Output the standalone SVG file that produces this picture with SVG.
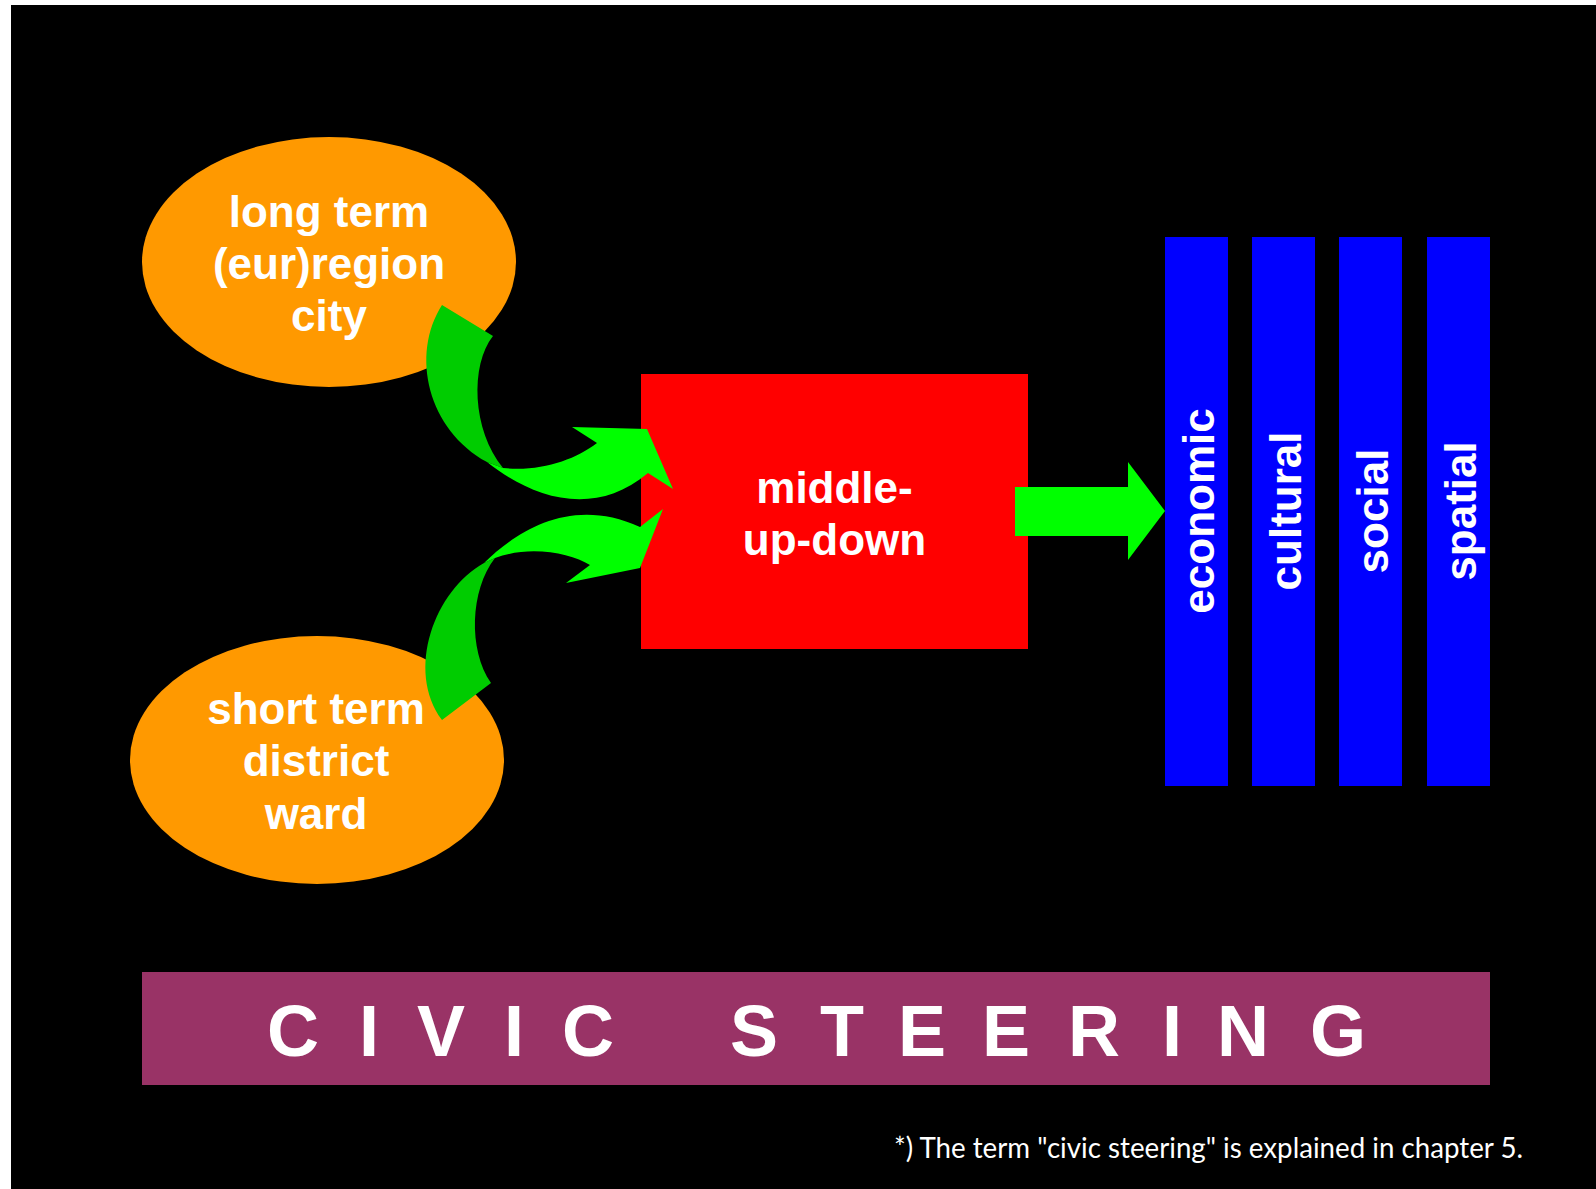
<svg xmlns="http://www.w3.org/2000/svg" width="1596" height="1189" viewBox="0 0 1596 1189">
  <style>
    .label { font-family: "Liberation Sans", Arial, sans-serif; font-weight: bold; fill: #ffffff; text-anchor: middle; }
    .big { font-size: 44px; }
    .bar { fill: #0000ff; }
    .oval { fill: #ff9900; }
    .front { fill: #00ff00; }
    .back { fill: #00cc00; }
    .note { font-family: Lato, "Noto Sans", sans-serif; font-size: 29px; fill: #ffffff; }
  </style>

  <!-- page -->
  <rect x="0" y="0" width="1596" height="1189" fill="#ffffff"/>
  <rect x="11" y="5" width="1585" height="1184" fill="#000000"/>

  <!-- time-scale ellipses -->
  <g id="node-long-term">
    <ellipse class="oval" cx="329" cy="262" rx="187" ry="125"/>
    <text class="label big" x="329" y="227">long term</text>
    <text class="label big" x="329" y="279">(eur)region</text>
    <text class="label big" x="329" y="331">city</text>
  </g>
  <g id="node-short-term">
    <ellipse class="oval" cx="317" cy="760" rx="187" ry="124"/>
    <text class="label big" x="316" y="724">short term</text>
    <text class="label big" x="316" y="776">district</text>
    <text class="label big" x="316" y="829">ward</text>
  </g>

  <!-- central box -->
  <g id="node-middle-up-down">
    <rect x="641" y="374" width="387" height="275" fill="#ff0000"/>
    <text class="label big" x="834.5" y="503">middle-</text>
    <text class="label big" x="834.5" y="555">up-down</text>
  </g>

  <!-- policy fields -->
  <g id="node-economic">
    <rect class="bar" x="1165" y="237" width="63" height="549"/>
    <text class="label big" transform="translate(1213.5,511) rotate(-90)">economic</text>
  </g>
  <g id="node-cultural">
    <rect class="bar" x="1252" y="237" width="63" height="549"/>
    <text class="label big" transform="translate(1300.5,511) rotate(-90)">cultural</text>
  </g>
  <g id="node-social">
    <rect class="bar" x="1339" y="237" width="63" height="549"/>
    <text class="label big" transform="translate(1387.5,511) rotate(-90)">social</text>
  </g>
  <g id="node-spatial">
    <rect class="bar" x="1427" y="237" width="63" height="549"/>
    <text class="label big" transform="translate(1475.5,511) rotate(-90)">spatial</text>
  </g>

  <!-- banner -->
  <g id="node-civic-steering">
    <rect x="142" y="972" width="1348" height="113" fill="#993366"/>
    <text class="label" font-size="72" y="1056" x="293 369 441 514 588 754 842 922 1006 1094 1172 1243 1338">CIVICSTEERING</text>
  </g>

  <!-- connectors -->
  <g id="connectors">
    <!-- curved arrow from the long-term ellipse -->
    <path class="back" d="M442,305 L493,336 C470,365 472,430 503,468 L487,462 C428,430 410,355 442,305 Z"/>
    <path class="front" d="M487,462 C530,496 592,520 648,473 L673,489 L647,429 L572,427 L597,443 C575,460 540,472 503,468 Z"/>
    <!-- curved arrow from the short-term ellipse -->
    <path class="back" d="M442,720 L491,683 C468,650 470,590 495,558 L484,563 C435,590 405,670 442,720 Z"/>
    <path class="front" d="M484,563 C518,530 572,496 640,527 L663,509 L640,568 L566,583 L590,565 C570,553 530,545 495,558 Z"/>
    <!-- block arrow to the policy fields -->
    <polygon class="front" points="1015,487 1128,487 1128,462 1165,511 1128,560 1128,536 1015,536"/>
  </g>

  <text class="note" x="894" y="1158" textLength="629" lengthAdjust="spacingAndGlyphs">*) The term "civic steering" is explained in chapter 5.</text>
</svg>
